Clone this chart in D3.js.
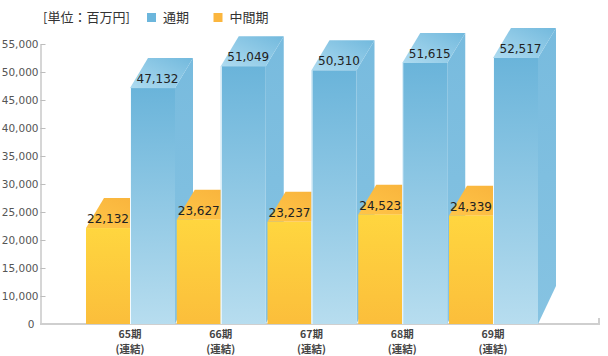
<!DOCTYPE html>
<html>
<head>
<meta charset="utf-8">
<script src="https://cdn.jsdelivr.net/npm/d3@7/dist/d3.min.js"></script>
<style>
  html, body { margin: 0; padding: 0; background: #fff; }
  svg { display: block; }
</style>
</head>
<body>
<svg id="chart" width="608" height="356"></svg>
<script>
// ---- data ----
const categories = ["65期", "66期", "67期", "68期", "69期"];
const subLabels = ["(連結)", "(連結)", "(連結)", "(連結)", "(連結)"];
const fullYear = [47132, 51049, 50310, 51615, 52517];   // 通期
const interim = [22132, 23627, 23237, 24523, 24339];    // 中間期
const yTicks = [0, 10000, 15000, 20000, 25000, 30000, 35000, 40000, 45000, 50000, 55000];
const legendItems = ["通期", "中間期"];
const unitLabel = "[単位：百万円]";

// ---- layout ----
const svg = d3.select("#chart");
const x = d3.scaleBand().domain(categories).range([86, 86 + 5 * 90.75]).paddingInner(0).paddingOuter(0);
// compressed low range (0-10,000) as in the original
const y = d3.scaleLinear().domain([0, 10000, 55000]).range([324, 296, 44]);
const wO = 44, wB = 45, dx = 18, dy = -30;
const jp = "'Noto Sans CJK JP', 'Noto Sans', sans-serif";

const defs = svg.append("defs");
function grad(id, stops, x1, y1, x2, y2) {
  const g = defs.append("linearGradient").attr("id", id)
    .attr("x1", x1).attr("y1", y1).attr("x2", x2).attr("y2", y2);
  stops.forEach(([o, c]) => g.append("stop").attr("offset", o).attr("stop-color", c));
}
grad("bFront", [[0, "#6AB4DA"], [1, "#B7DDEF"]], 0, 0, 0, 1);
grad("bSide", [[0, "#78BBDE"], [1, "#86C3E2"]], 0, 0, 0, 1);
grad("bTop", [[0, "#AEDBF0"], [1, "#72B9DD"]], 0, 1, 1, 0);
grad("oFront", [[0, "#FFD63F"], [1, "#FBBE3B"]], 0, 0, 0, 1);
grad("oTop", [[0, "#FFC548"], [1, "#F8B23B"]], 0, 1, 1, 0);

// ---- axes ----
const yAxis = d3.axisLeft(y).tickValues(yTicks).tickSizeInner(-5).tickSizeOuter(0)
  .tickPadding(2).tickFormat(d3.format(","));
const ga = svg.append("g").attr("transform", "translate(40.5,0)").call(yAxis);
ga.select(".domain").attr("stroke", "#c8c8c8").attr("stroke-width", 1.5);
ga.selectAll(".tick line").attr("stroke", "#bdbdbd");
ga.selectAll(".tick text").attr("fill", "#555").attr("font-size", "10.5px")
  .attr("font-family", "'DejaVu Sans', sans-serif")
  .attr("dx", d => d === 0 ? -4 : 0);

svg.append("path")
  .attr("d", `M40,${y(0)}H599V${y(0) - 6}`)
  .attr("fill", "none").attr("stroke", "#cfcfcf").attr("stroke-width", 2);

// ---- bars ----
const y0 = y(0);
categories.forEach((c, i) => {
  const g = svg.append("g");
  // interim (orange)
  const ox = x(c), oy = y(interim[i]);
  g.append("path").attr("d", `M${ox},${oy}L${ox + dx},${oy + dy}H${ox + wO + dx}L${ox + wO},${oy}Z`)
    .attr("fill", "url(#oTop)");
  g.append("rect").attr("x", ox).attr("y", oy).attr("width", wO).attr("height", y0 - oy)
    .attr("fill", "url(#oFront)");
  // full year (blue)
  const bx = x(c) + wO, by = y(fullYear[i]);
  g.append("path").attr("d", `M${bx + wB},${by}L${bx + wB + dx},${by + dy}V${y0 + dy - 8}L${bx + wB},${y0}Z`)
    .attr("fill", "url(#bSide)");
  g.append("rect").attr("x", bx).attr("y", by).attr("width", wB).attr("height", y0 - by)
    .attr("fill", "url(#bFront)");
  g.append("line").attr("x1", bx + 0.5).attr("x2", bx + 0.5).attr("y1", by).attr("y2", y0)
    .attr("stroke", "#f4fbff").attr("stroke-width", 1);
  g.append("path").attr("d", `M${bx},${by}L${bx + dx},${by + dy}H${bx + wB + dx}L${bx + wB},${by}Z`)
    .attr("fill", "url(#bTop)");
});

// ---- value labels ----
const valFont = "'DejaVu Sans', sans-serif";
categories.forEach((c, i) => {
  svg.append("text").attr("x", x(c) + wO / 2).attr("y", y(interim[i]) - 5)
    .attr("text-anchor", "middle").attr("font-family", valFont).attr("font-size", "12px")
    .attr("fill", "#222").text(d3.format(",")(interim[i]));
  svg.append("text").attr("x", x(c) + wO + wB / 2 + 5).attr("y", y(fullYear[i]) - 5)
    .attr("text-anchor", "middle").attr("font-family", valFont).attr("font-size", "12px")
    .attr("fill", "#222").text(d3.format(",")(fullYear[i]));
});

// ---- category labels (two lines) ----
categories.forEach((c, i) => {
  const cx = x(c) + wO;
  svg.append("text").attr("x", cx).attr("y", 337.5).attr("text-anchor", "middle")
    .attr("font-family", jp).attr("font-size", "10.5px").attr("font-weight", "bold")
    .attr("fill", "#444").text(c);
  svg.append("text").attr("x", cx).attr("y", 352.8).attr("text-anchor", "middle")
    .attr("font-family", jp).attr("font-size", "10.5px").attr("font-weight", "bold")
    .attr("fill", "#444").text(subLabels[i]);
});

// ---- legend ----
svg.append("text").attr("x", 43).attr("y", 22).attr("font-family", jp).attr("font-size", "13px")
  .attr("fill", "#333").text(unitLabel);
const legColors = ["#6CB6DC", "#FBB63E"];
const legX = [147, 213.5];
legendItems.forEach((t, i) => {
  svg.append("rect").attr("x", legX[i]).attr("y", 13).attr("width", 9).attr("height", 9)
    .attr("fill", legColors[i]);
  svg.append("text").attr("x", legX[i] + 16).attr("y", 22).attr("font-family", jp)
    .attr("font-size", "13px").attr("fill", "#333").text(t);
});
</script>
</body>
</html>
